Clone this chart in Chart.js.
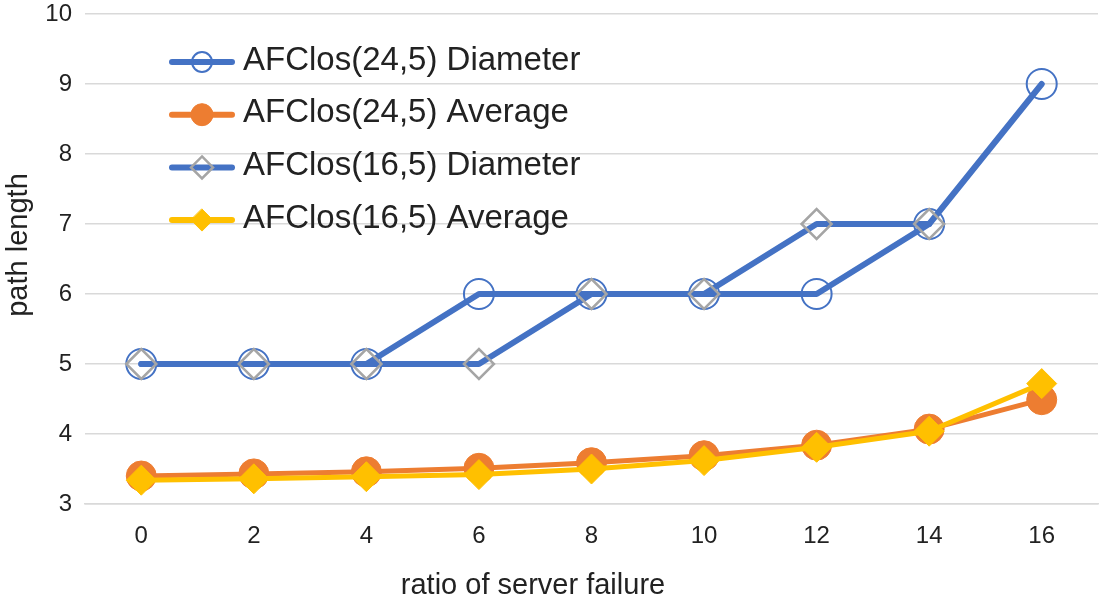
<!DOCTYPE html>
<html>
<head>
<meta charset="utf-8">
<title>path length vs ratio of server failure</title>
<script src="https://cdn.jsdelivr.net/npm/chart.js@4/dist/chart.umd.min.js"></script>
<style>
  html, body { margin: 0; padding: 0; background: #fff; }
  #wrap { width: 1100px; height: 604px; position: relative; }
</style>
</head>
<body>
<div id="wrap"><canvas id="chart-path"></canvas></div>
<script>
const ratios = ['0', '2', '4', '6', '8', '10', '12', '14', '16'];
const diam24 = [5, 5, 5, 6, 6, 6, 6, 7, 9];
const avg24 = [3.40, 3.43, 3.46, 3.51, 3.59, 3.69, 3.84, 4.07, 4.49];
const diam16 = [5, 5, 5, 5, 6, 6, 7, 7, null];
const avg16 = [3.34, 3.36, 3.39, 3.42, 3.50, 3.62, 3.81, 4.04, 4.72];
const yTicks = [3, 4, 5, 6, 7, 8, 9, 10];

const FONT = '"Liberation Sans", Arial, Helvetica, sans-serif';
const TEXT = '#222222';
const GRID = '#d9d9d9';

// legend marker details, keyed by dataset index
const legendMarks = [
    {shape: 'circle', stroke: '#4472c4', fill: null, r: 10, w: 2},
    {shape: 'circle', stroke: '#ed7d31', fill: '#ed7d31', r: 11, w: 1},
    {shape: 'diamond', stroke: '#a5a5a5', fill: null, r: 11, w: 2.5},
    {shape: 'diamond', stroke: '#ffc000', fill: '#ffc000', r: 11, w: 1},
];

function markPath(ctx, shape, x, y, r) {
    ctx.beginPath();
    if (shape === 'circle') {
        ctx.arc(x, y, r, 0, Math.PI * 2);
    } else {
        ctx.moveTo(x, y - r);
        ctx.lineTo(x + r, y);
        ctx.lineTo(x, y + r);
        ctx.lineTo(x - r, y);
        ctx.closePath();
    }
}

const insideLegend = {
    id: 'insideLegend',
    afterDraw(chart) {
        const ctx = chart.ctx;
        ctx.save();
        chart.data.datasets.forEach((ds, i) => {
            const y = 62 + i * 52.7;
            ctx.strokeStyle = ds.borderColor;
            ctx.lineWidth = 6;
            ctx.lineCap = 'round';
            ctx.beginPath();
            ctx.moveTo(172, y);
            ctx.lineTo(232, y);
            ctx.stroke();

            const m = legendMarks[i];
            markPath(ctx, m.shape, 202, y, m.r);
            if (m.fill) {
                ctx.fillStyle = m.fill;
                ctx.fill();
            }
            ctx.strokeStyle = m.stroke;
            ctx.lineWidth = m.w;
            ctx.stroke();

            ctx.fillStyle = TEXT;
            ctx.font = '33px ' + FONT;
            ctx.textAlign = 'left';
            ctx.textBaseline = 'alphabetic';
            ctx.fillText(ds.label, 243, y + 7.5);
        });
        ctx.restore();
    }
};

// axis titles sit off-centre in the original, so draw them by hand
const axisTitles = {
    id: 'axisTitles',
    afterDraw(chart) {
        const ctx = chart.ctx;
        ctx.save();
        ctx.fillStyle = TEXT;
        ctx.font = '29px ' + FONT;
        ctx.textAlign = 'center';
        ctx.textBaseline = 'middle';
        ctx.fillText('ratio of server failure', 533, 586);
        ctx.translate(19, 245);
        ctx.rotate(-Math.PI / 2);
        ctx.fillText('path length', 0, 0);
        ctx.restore();
    }
};

function makeChart(ctx) {
    return new Chart(ctx, {
        type: 'line',
        data: {
            labels: ratios,
            datasets: [
                {
                    label: 'AFClos(24,5) Diameter',
                    data: diam24,
                    borderColor: '#4472c4',
                    borderWidth: 6,
                    pointStyle: 'circle',
                    pointRadius: 15,
                    pointBorderWidth: 2,
                    pointBorderColor: '#4472c4',
                    pointBackgroundColor: 'rgba(0,0,0,0)',
                    order: 3,
                },
                {
                    label: 'AFClos(24,5) Average',
                    data: avg24,
                    borderColor: '#ed7d31',
                    borderWidth: 5,
                    pointStyle: 'circle',
                    pointRadius: 15,
                    pointBorderWidth: 1,
                    pointBorderColor: '#ed7d31',
                    pointBackgroundColor: '#ed7d31',
                    order: 2,
                },
                {
                    label: 'AFClos(16,5) Diameter',
                    data: diam16,
                    borderColor: '#4472c4',
                    borderWidth: 6,
                    pointStyle: 'rectRot',
                    pointRadius: 15,
                    pointBorderWidth: 2.5,
                    pointBorderColor: '#a5a5a5',
                    pointBackgroundColor: 'rgba(0,0,0,0)',
                    order: 1,
                },
                {
                    label: 'AFClos(16,5) Average',
                    data: avg16,
                    borderColor: '#ffc000',
                    borderWidth: 5,
                    pointStyle: 'rectRot',
                    pointRadius: 15,
                    pointBorderWidth: 1,
                    pointBorderColor: '#ffc000',
                    pointBackgroundColor: '#ffc000',
                    order: 0,
                }
            ].map(ds => Object.assign(ds, {
                fill: false,
                tension: 0,
                borderCapStyle: 'round',
                borderJoinStyle: 'round',
                spanGaps: false,
                clip: false,
            }))
        },
        options: {
            responsive: true,
            maintainAspectRatio: false,
            animation: false,
            events: [],
            layout: {autoPadding: false, padding: {left: 0, right: 2, top: 14, bottom: 0}},
            plugins: {
                legend: {display: false},
                tooltip: {enabled: false},
            },
            scales: {
                x: {
                    offset: true,
                    grid: {display: false, drawTicks: false},
                    border: {display: true, color: GRID, width: 1.5},
                    ticks: {
                        color: TEXT,
                        font: {family: FONT, size: 24},
                        padding: 18,
                        maxRotation: 0,
                    },
                    afterFit: (scale) => {
                        scale.height = 100;
                        scale.paddingLeft = 0;
                        scale.paddingRight = 0;
                    },
                },
                y: {
                    min: 3,
                    max: 10,
                    afterBuildTicks: (scale) => { scale.ticks = yTicks.map(v => ({value: v})); },
                    grid: {color: GRID, lineWidth: 1.5, drawTicks: false},
                    border: {display: false},
                    ticks: {
                        color: TEXT,
                        font: {family: FONT, size: 24},
                        padding: 13,
                    },
                    afterFit: (scale) => {
                        scale.width = 85;
                        scale.paddingTop = 0;
                        scale.paddingBottom = 0;
                    },
                }
            }
        },
        plugins: [insideLegend, axisTitles]
    });
}

function renderChart() {
    const ctx = document.getElementById('chart-path')?.getContext('2d');
    if (ctx) {
        makeChart(ctx);
    }
}

if (document.readyState === 'loading') {
    document.addEventListener('DOMContentLoaded', renderChart);
} else {
    renderChart();
}
</script>
</body>
</html>
